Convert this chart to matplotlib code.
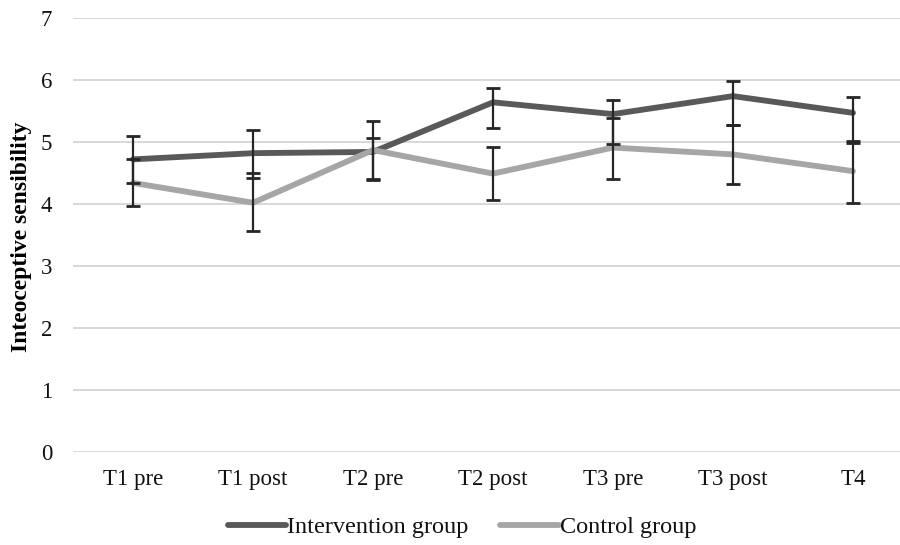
import matplotlib
matplotlib.use("Agg")
import matplotlib.pyplot as plt
import numpy as np

categories = ["T1 pre", "T1 post", "T2 pre", "T2 post", "T3 pre", "T3 post", "T4"]
intervention = [4.72, 4.82, 4.84, 5.64, 5.45, 5.74, 5.47]
intervention_low = [4.34, 4.42, 4.38, 5.22, 4.97, 5.27, 4.98]
intervention_high = [5.10, 5.19, 5.34, 5.87, 5.67, 5.98, 5.72]
control = [4.34, 4.02, 4.87, 4.49, 4.91, 4.80, 4.53]
control_low = [3.96, 3.56, 4.40, 4.06, 4.41, 4.32, 4.02]
control_high = [4.72, 4.50, 5.07, 4.92, 5.38, 5.27, 5.02]
y_ticks = [0, 1, 2, 3, 4, 5, 6, 7]

plt.rcParams['font.family'] = ['Liberation Serif', 'DejaVu Serif']

fig = plt.figure(figsize=(9, 5.45), dpi=100)
ax = fig.add_axes([73/900, 93/545, 840/900, 434/545])
x = np.arange(len(categories))

ax.plot(x, intervention, color="#595959", lw=4.2, solid_capstyle="round", zorder=3, label="Intervention group")
ax.plot(x, control, color="#a6a6a6", lw=4.2, solid_capstyle="round", zorder=3, label="Control group")

for vals, lo, hi in [(intervention, intervention_low, intervention_high), (control, control_low, control_high)]:
    v = np.array(vals); l = np.array(lo); h = np.array(hi)
    ax.errorbar(x, v, yerr=[v - l, h - v], fmt="none", ecolor="#262626", elinewidth=1.6,
                capsize=4.8, capthick=2.0, zorder=4)

ax.set_ylim(0, 7)
ax.set_xlim(-0.5, len(categories) - 0.5)
ax.set_yticks(y_ticks)
ax.set_xticks(x)
ax.set_xticklabels(categories)
ax.yaxis.grid(True, color="#d6d6d6", lw=1.3)
ax.set_axisbelow(True)
for s in ax.spines.values():
    s.set_visible(False)
ax.tick_params(axis="both", length=0, labelsize=16.5, colors="#111111")
ax.tick_params(axis="y", pad=15)
ax.tick_params(axis="x", pad=12)

fig.text(22/900, 1 - 237/545, "Inteoceptive sensibility", rotation=90, ha="center", va="center",
         fontsize=17, fontweight="bold")

leg = fig.legend(loc="center", bbox_to_anchor=(462/900, 1 - 527/545), ncol=2, frameon=False,
                 fontsize=17.5, handlelength=2.4, handletextpad=0.05, columnspacing=1.3)
for t in leg.get_texts():
    t.set_color("#111111")

fig.savefig("out.png", dpi=100, facecolor="white")
